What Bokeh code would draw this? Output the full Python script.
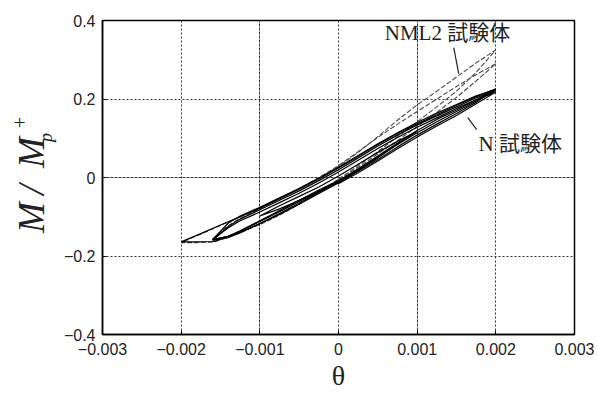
from bokeh.plotting import figure
from bokeh.models import FixedTicker, Label, Range1d, Grid
from bokeh.layouts import row
from bokeh.core.properties import value
from bokeh.embed import file_html
from bokeh.resources import INLINE
import math

# ---------------- data ----------------
X_TICKS = [-0.003, -0.002, -0.001, 0.0, 0.001, 0.002, 0.003]
X_TICK_LABELS = ["\u22120.003", "\u22120.002", "\u22120.001", "0", "0.001", "0.002", "0.003"]
Y_TICKS = [-0.4, -0.2, 0.0, 0.2, 0.4]
Y_TICK_LABELS = ["\u22120.4", "\u22120.2", "0", "0.2", "0.4"]

# theta sequences of the cycles
TH_SMALL = [0, 0.00025, 0.0005, 0.00075, 0.001, 0.00075, 0.0005, 0.00025, 0,
            -0.00025, -0.0005, -0.00075, -0.001, -0.00075, -0.0005, -0.00025, 0]
TH_A = [0, 0.00025, 0.0005, 0.00075, 0.001, 0.00125, 0.0015, 0.00175, 0.002,
        0.00175, 0.0015, 0.00125, 0.001, 0.00075, 0.0005, 0.00025, 0,
        -0.00025, -0.0005, -0.00075, -0.001, -0.00125, -0.0014, -0.0016,
        -0.0014, -0.00125, -0.001, -0.00075, -0.0005, -0.00025, 0]
TH_B = [0, 0.00025, 0.0005, 0.00075, 0.001, 0.00125, 0.0015, 0.00175, 0.002,
        0.00175, 0.0015, 0.00125, 0.001, 0.00075, 0.0005, 0.00025, 0,
        -0.00025, -0.0005, -0.00075, -0.001, -0.00125, -0.0015, -0.00175, -0.002,
        -0.0018, -0.00158, -0.0014, -0.00125, -0.001, -0.00075, -0.0005, -0.00025, 0]

# N specimen (M / Mp+)
N_C1_M = [-0.012, 0.018, 0.050, 0.085, 0.118, 0.092, 0.064, 0.034, 0.004,
          -0.024, -0.048, -0.072, -0.098, -0.080, -0.058, -0.035, -0.012]
N_C2_M = [-0.010, 0.020, 0.052, 0.084, 0.114, 0.142, 0.168, 0.195, 0.222,
          0.203, 0.180, 0.157, 0.134, 0.108, 0.080, 0.050, 0.020,
          -0.008, -0.034, -0.058, -0.082, -0.106, -0.125, -0.160,
          -0.153, -0.141, -0.117, -0.092, -0.065, -0.038, -0.010]
N_C3_M = [-0.014, 0.016, 0.046, 0.078, 0.108, 0.136, 0.163, 0.192, 0.226,
          0.206, 0.184, 0.160, 0.137, 0.112, 0.084, 0.054, 0.024,
          -0.004, -0.030, -0.054, -0.078, -0.100, -0.121, -0.143, -0.164,
          -0.164, -0.163, -0.150, -0.139, -0.118, -0.094, -0.068, -0.041, -0.014]
N_C4_M = [-0.016, 0.012, 0.042, 0.073, 0.103, 0.131, 0.158, 0.188, 0.218,
          0.198, 0.176, 0.152, 0.128, 0.102, 0.074, 0.044, 0.014,
          -0.014, -0.040, -0.064, -0.088, -0.110, -0.128, -0.158,
          -0.150, -0.137, -0.112, -0.087, -0.061, -0.036, -0.010]
N_C5_M = [-0.008, 0.022, 0.055, 0.088, 0.120, 0.148, 0.172, 0.198, 0.224,
          0.208, 0.186, 0.164, 0.140, 0.114, 0.086, 0.056, 0.026,
          -0.002, -0.028, -0.052, -0.076, -0.098, -0.116, -0.158,
          -0.150, -0.136, -0.110, -0.084, -0.058, -0.032, -0.008]

# NML2 specimen
NML2_C1_M = [-0.006, 0.026, 0.060, 0.094, 0.130, 0.166, 0.204, 0.246, 0.290,
             0.262, 0.232, 0.200, 0.168, 0.136, 0.102, 0.066, 0.030,
             0.000, -0.028, -0.054, -0.080, -0.104, -0.122, -0.158,
             -0.150, -0.136, -0.112, -0.086, -0.060, -0.034, -0.006]
NML2_C2_M = [-0.004, 0.030, 0.066, 0.104, 0.142, 0.180, 0.220, 0.268, 0.325,
             0.292, 0.256, 0.220, 0.185, 0.146, 0.104, 0.064, 0.028,
             -0.002, -0.028, -0.054, -0.078, -0.100, -0.122, -0.144, -0.166,
             -0.166, -0.164, -0.152, -0.140, -0.120, -0.096, -0.068, -0.038, -0.004]

N_CYCLES = [(TH_SMALL, N_C1_M), (TH_A, N_C2_M), (TH_B, N_C3_M), (TH_A, N_C4_M), (TH_A, N_C5_M)]
NML2_CYCLES = [(TH_A, NML2_C1_M), (TH_B, NML2_C2_M)]

SERIF = "Liberation Serif"
TXT = "#222222"
LEFT_W = 60
FRAME_TOP, FRAME_BOTTOM = 20, 334

# ---------------- y-axis title panel (its frame is aligned with the main frame) ----------------
lab = figure(frame_width=LEFT_W, frame_height=FRAME_BOTTOM - FRAME_TOP,
             output_backend="svg", toolbar_location=None,
             x_range=Range1d(0, LEFT_W), y_range=Range1d(FRAME_BOTTOM, FRAME_TOP),
             x_axis_location=None, y_axis_location=None,
             min_border=0, min_border_left=0, min_border_right=0,
             min_border_top=FRAME_TOP, min_border_bottom=396 - FRAME_BOTTOM,
             outline_line_color=None, background_fill_color="white",
             border_fill_color="white")
lab.xgrid.visible = False
lab.ygrid.visible = False
# "M / M" written as three pieces reading bottom to top
lab.text(x=[31, 31, 31], y=[217, 189, 152], text=["M", "/", "M"], angle=math.pi / 2,
         text_font=value(SERIF), text_font_style="italic", text_font_size="37px",
         text_color=TXT, text_align="center", text_baseline="middle")
lab.text(x=[45], y=[137], text=["p"], angle=math.pi / 2,
         text_font=value(SERIF), text_font_style="italic", text_font_size="18px",
         text_color=TXT, text_align="center", text_baseline="middle")
lab.text(x=[19], y=[122], text=["+"], angle=math.pi / 2,
         text_font=value(SERIF), text_font_size="20px",
         text_color=TXT, text_align="center", text_baseline="middle")

# ---------------- main figure ----------------
p = figure(width=597 - LEFT_W, height=396, output_backend="svg", toolbar_location=None,
           x_range=Range1d(-0.003, 0.003), y_range=Range1d(-0.4, 0.4),
           min_border_left=100 - LEFT_W, min_border_right=23, min_border_top=FRAME_TOP,
           min_border_bottom=396 - FRAME_BOTTOM, background_fill_color="white",
           border_fill_color="white")

p.xgrid.visible = False
p.ygrid.visible = False

GRID_COL = "#333333"
p.add_layout(Grid(dimension=0, ticker=FixedTicker(ticks=[-0.002, 0.0, 0.002]),
                  grid_line_color=GRID_COL, grid_line_dash="2 2", grid_line_width=1))
p.add_layout(Grid(dimension=0, ticker=FixedTicker(ticks=[-0.001, 0.001]),
                  grid_line_color=GRID_COL, grid_line_dash="3 1", grid_line_width=1))
p.add_layout(Grid(dimension=1, ticker=FixedTicker(ticks=[-0.2, 0.2]),
                  grid_line_color=GRID_COL, grid_line_dash="2 2", grid_line_width=1))
p.add_layout(Grid(dimension=1, ticker=FixedTicker(ticks=[0.0]),
                  grid_line_color=GRID_COL, grid_line_dash="3 1", grid_line_width=1))

p.outline_line_color = "black"
p.outline_line_width = 1.5
p.outline_line_alpha = 1.0

for th, m in NML2_CYCLES:
    p.line(th, m, line_color="#4a4a4a", line_width=1.1, line_dash="5 2")
for th, m in N_CYCLES:
    p.line(th, m, line_color="black", line_width=1.2)

p.xaxis.ticker = FixedTicker(ticks=X_TICKS)
p.yaxis.ticker = FixedTicker(ticks=Y_TICKS)
p.xaxis.major_label_overrides = {t: l for t, l in zip(X_TICKS, X_TICK_LABELS)}
p.yaxis.major_label_overrides = {t: l for t, l in zip(Y_TICKS, Y_TICK_LABELS)}
for ax in (p.xaxis[0], p.yaxis[0]):
    ax.major_label_text_font = "Liberation Sans"
    ax.major_label_text_font_size = "16px"
    ax.major_label_text_color = TXT
    ax.major_tick_in = 4
    ax.major_tick_out = 0
    ax.minor_tick_line_color = None
    ax.axis_line_color = "black"
    ax.axis_line_width = 1.5
    ax.major_tick_line_color = "black"
p.xaxis.major_label_standoff = 8
p.yaxis.major_label_standoff = 7

p.xaxis.axis_label = "\u03b8"
p.xaxis.axis_label_text_font = SERIF
p.xaxis.axis_label_text_font_size = "28px"
p.xaxis.axis_label_text_font_style = "normal"
p.xaxis.axis_label_text_color = TXT
p.xaxis.axis_label_standoff = 2

LBL_FONT = "Liberation Serif, Noto Sans CJK JP"
p.add_layout(Label(x=0.000588, y=0.369, text="NML2 試験体", text_font=LBL_FONT,
                   text_font_size="21px", text_color=TXT,
                   text_align="left", text_baseline="middle"))
p.add_layout(Label(x=0.00178, y=0.086, text="N 試験体", text_font=LBL_FONT,
                   text_font_size="21px", text_color=TXT,
                   text_align="left", text_baseline="middle"))
p.segment(x0=[0.001465, 0.001757], y0=[0.331, 0.1217],
          x1=[0.001528, 0.001643], y1=[0.2645, 0.1523],
          line_color=TXT, line_width=1.2)

open("out.html", "w").write(file_html(row(lab, p, spacing=0), INLINE))
